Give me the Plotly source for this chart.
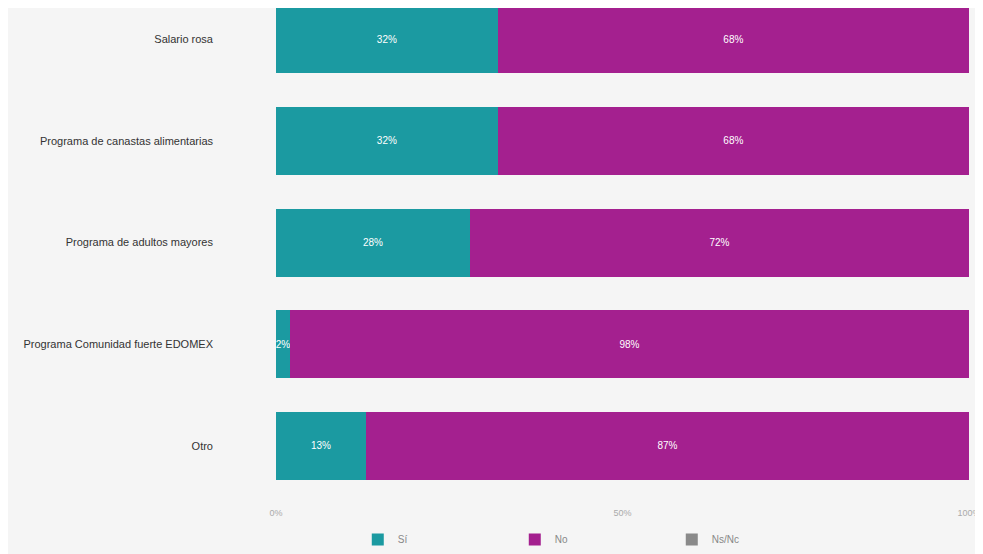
import plotly.graph_objects as go

categories = ["Salario rosa", "Programa de canastas alimentarias", "Programa de adultos mayores",
              "Programa Comunidad fuerte EDOMEX", "Otro"]
si = [32, 32, 28, 2, 13]
no = [68, 68, 72, 98, 87]
nsnc = [0, 0, 0, 0, 0]
tick_vals = [0, 50, 100]
tick_text = ["0%", "50%", "100%"]

series = [("Sí", si, "#1b9aa1"), ("No", no, "#a4208f"), ("Ns/Nc", nsnc, "#8a8a8a")]

fig = go.Figure()
for name, vals, col in series:
    fig.add_trace(go.Bar(
        y=categories, x=vals, name=name, orientation="h",
        marker=dict(color=col, line=dict(width=0)),
        text=[f"{v}%" if v > 0 else "" for v in vals],
        textposition="inside", insidetextanchor="middle", textangle=0,
        textfont=dict(color="white", size=10, family="Liberation Sans, Arial"),
        hoverinfo="skip",
    ))

fig.update_layout(
    barmode="stack", bargap=0.33,
    width=975, height=546,
    margin=dict(l=268, r=14, t=0, b=56),
    paper_bgcolor="#f5f5f5", plot_bgcolor="#f5f5f5",
    font=dict(family="Liberation Sans, Arial", color="#333"),
    uniformtext=dict(minsize=10, mode="show"),
    legend=dict(orientation="h", x=0.118, y=-0.09, xanchor="left", yanchor="middle",
                traceorder="normal", entrywidth=112, itemwidth=30,
                font=dict(size=10, color="#888"), bgcolor="rgba(0,0,0,0)"),
    showlegend=True,
)
fig.update_xaxes(range=[0, 100], tickvals=tick_vals, ticktext=tick_text,
                 showgrid=False, zeroline=False, showline=False, ticklabelstandoff=10,
                 ticklabeloverflow="allow",
                 tickfont=dict(size=9, color="#aaa"))
fig.update_yaxes(range=[4.495, -0.309], showgrid=False, zeroline=False, showline=False,
                 ticklabelstandoff=62, tickfont=dict(size=11, color="#333"))

fig.write_html("out.html")
